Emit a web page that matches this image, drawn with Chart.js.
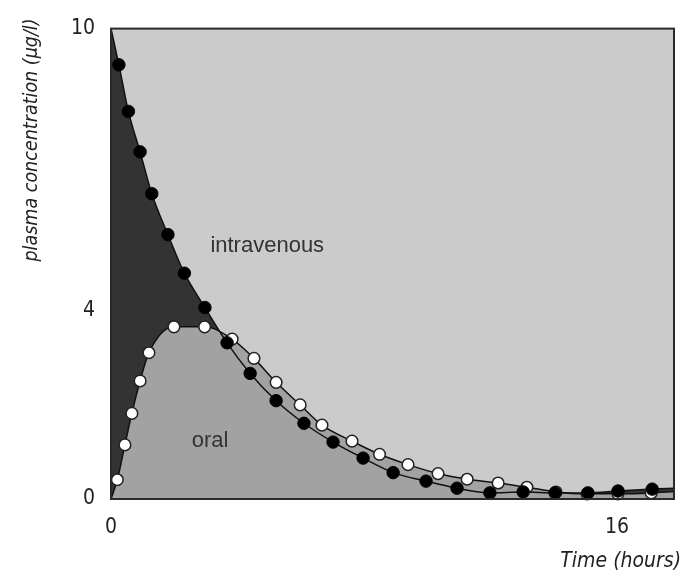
<!DOCTYPE html>
<html>
<head>
<meta charset="utf-8">
<script src="https://cdn.jsdelivr.net/npm/chart.js@4/dist/chart.umd.min.js"></script>
<style>
	body { margin: 0; background: #fff; }
	canvas { display: block; }
</style>
</head>
<body>
<canvas id="chart" width="695" height="572"></canvas>
<script>
/*
 * Plasma samples after an intravenous dose (black dots), read off the
 * picture: hours after dose and concentration in ug/l.
 */
const ivHours = [
	0.25, 0.55, 0.92, 1.29, 1.80, 2.32, 2.97, 3.67, 4.40, 5.22, 6.10,
	7.02, 7.97, 8.92, 9.96, 10.94, 11.98, 13.03, 14.04, 15.08, 16.03, 17.11,
];
const ivLevels = [
	9.23, 8.24, 7.38, 6.49, 5.62, 4.80, 4.07, 3.32, 2.67, 2.09, 1.61,
	1.21, 0.87, 0.56, 0.38, 0.23, 0.13, 0.15, 0.13, 0.13, 0.17, 0.21,
];

/* Plasma samples after an oral dose (white dots). */
const oralHours = [
	0.20, 0.44, 0.66, 0.92, 1.20, 1.99, 2.96, 3.83, 4.52, 5.22, 5.98, 6.67,
	7.62, 8.49, 9.39, 10.34, 11.26, 12.24, 13.15, 14.07, 15.05, 16.03, 17.08,
];
const oralLevels = [
	0.41, 1.15, 1.82, 2.51, 3.11, 3.66, 3.66, 3.40, 2.99, 2.48, 2.00, 1.57,
	1.23, 0.95, 0.73, 0.54, 0.42, 0.34, 0.25, 0.15, 0.11, 0.11, 0.13,
];

/* Where each drawn curve begins and ends, as [hours, level]. */
const ivCurveStart = [0, 10];
const ivCurveEnd = [17.8, 0.23];
const oralCurveStart = [0, 0];
const oralCurveEnd = [17.8, 0.16];

/* Axes. */
const xMax = 17.8;
const yMax = 10;
const xTicks = [0, 16];
const yTicks = [0, 4, 10];

/* Text written inside the plot. */
const labelTexts = ['intravenous', 'oral'];
const labelHours = [4.94, 3.13];
const labelLevels = [5.37, 1.23];

const narrow = '"Liberation Sans Narrow", "DejaVu Sans Condensed", sans-serif';

function points(xs, ys)
{
	return xs.map((x, i) => ({ x: x, y: ys[i] }));
}

function curve(start, xs, ys, end)
{
	return [{ x: start[0], y: start[1] }, ...points(xs, ys),
		{ x: end[0], y: end[1] }];
}

/* Light grey plot background and the dark frame round it. */
const frame = {
	id: 'frame',
	beforeDatasetsDraw(chart) {
		const a = chart.chartArea;
		const ctx = chart.ctx;
		ctx.save();
		ctx.fillStyle = '#cbcbcb';
		ctx.fillRect(a.left, a.top, a.right - a.left, a.bottom - a.top);
		ctx.restore();
	},
	afterDraw(chart) {
		const a = chart.chartArea;
		const ctx = chart.ctx;
		ctx.save();
		ctx.strokeStyle = '#2a2a2a';
		ctx.lineWidth = 2;
		ctx.strokeRect(a.left, a.top, a.right - a.left, a.bottom - a.top);

		/* Labels in the plot. */

		ctx.fillStyle = '#333';
		ctx.font = '22px "Liberation Sans", Arial, sans-serif';
		ctx.textAlign = 'center';
		ctx.textBaseline = 'middle';
		for (let i = 0; i < labelTexts.length; i++)
			ctx.fillText(labelTexts[i],
				chart.scales.x.getPixelForValue(labelHours[i]),
				chart.scales.y.getPixelForValue(labelLevels[i]));

		/* Axis titles. */

		ctx.fillStyle = '#222';
		ctx.font = 'italic 21px ' + narrow;
		ctx.textAlign = 'right';
		ctx.textBaseline = 'alphabetic';
		ctx.fillText('Time (hours)', 681, 567);

		ctx.translate(32, 140);
		ctx.rotate(-Math.PI / 2);
		ctx.font = 'italic 19.5px ' + narrow;
		ctx.textAlign = 'center';
		ctx.textBaseline = 'middle';
		ctx.fillText('plasma concentration (\u00b5g/l)', 0, 0);
		ctx.restore();
	},
};

function axis(min, max, ticks, fit)
{
	return {
		type: 'linear',
		min: min,
		max: max,
		grid: { display: false, drawTicks: false },
		border: { display: false },
		ticks: {
			color: '#222',
			font: { family: narrow, size: 21 },
			padding: 16,
			autoSkip: false,
			maxRotation: 0,
		},
		afterBuildTicks: (scale) => {
			scale.ticks = ticks.map(v => ({ value: v }));
		},
		afterFit: fit,
	};
}

new Chart(document.getElementById('chart'), {
	type: 'line',
	data: {
		datasets: [{
			label: 'intravenous samples',
			data: points(ivHours, ivLevels),
			showLine: false,
			pointRadius: 6.2,
			pointBackgroundColor: '#000',
			pointBorderColor: '#000',
			pointBorderWidth: 1,
			clip: false,
			order: 0,
		}, {
			label: 'oral samples',
			data: points(oralHours, oralLevels),
			showLine: false,
			pointRadius: 5.8,
			pointBackgroundColor: '#fff',
			pointBorderColor: '#222',
			pointBorderWidth: 1.5,
			clip: false,
			order: 1,
		}, {
			label: 'intravenous curve',
			data: curve(ivCurveStart, ivHours, ivLevels, ivCurveEnd),
			borderColor: '#111',
			borderWidth: 1.5,
			pointRadius: 0,
			fill: false,
			cubicInterpolationMode: 'monotone',
			order: 2,
		}, {
			label: 'oral curve',
			data: curve(oralCurveStart, oralHours, oralLevels, oralCurveEnd),
			borderColor: '#111',
			borderWidth: 1.5,
			pointRadius: 0,
			fill: false,
			cubicInterpolationMode: 'monotone',
			order: 3,
		}, {
			label: 'oral area',
			data: curve(oralCurveStart, oralHours, oralLevels, oralCurveEnd),
			borderWidth: 0,
			borderColor: 'rgba(0,0,0,0)',
			backgroundColor: '#a2a2a2',
			pointRadius: 0,
			fill: 'origin',
			cubicInterpolationMode: 'monotone',
			order: 4,
		}, {
			label: 'intravenous area',
			data: curve(ivCurveStart, ivHours, ivLevels, ivCurveEnd),
			borderWidth: 0,
			borderColor: 'rgba(0,0,0,0)',
			backgroundColor: '#333',
			pointRadius: 0,
			fill: 'origin',
			cubicInterpolationMode: 'monotone',
			order: 5,
		}],
	},
	options: {
		responsive: false,
		animation: false,
		events: [],
		layout: { padding: { left: 0, right: 21, top: 20, bottom: 0 } },
		plugins: {
			legend: { display: false },
			tooltip: { enabled: false },
		},
		scales: {
			x: axis(0, xMax, xTicks, (s) => { s.height = 73; }),
			y: axis(0, yMax, yTicks, (s) => { s.width = 111; }),
		},
	},
	plugins: [frame],
});
</script>
</body>
</html>
